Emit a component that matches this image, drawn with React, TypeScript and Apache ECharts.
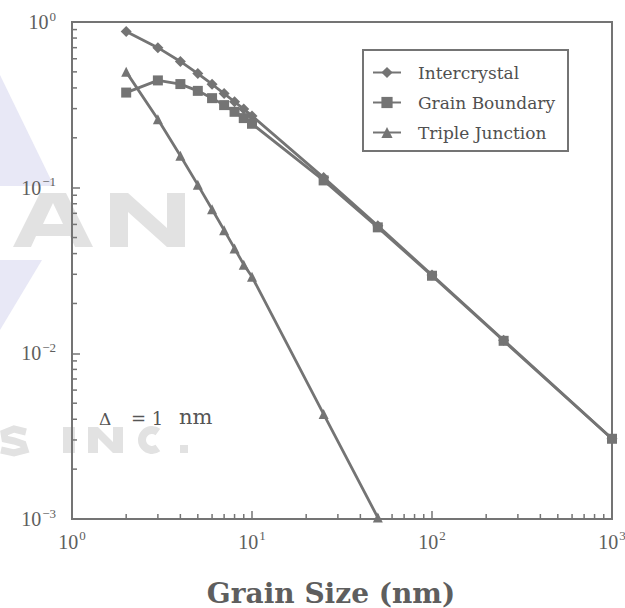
import { useEffect, useRef } from "react";
import * as echarts from "echarts";

// ---- data ----
const GRAIN_SIZE_NM = [2, 3, 4, 5, 6, 7, 8, 9, 10, 25, 50, 100, 250, 1000];
const INTERCRYSTAL = [0.875, 0.70, 0.578, 0.488, 0.421, 0.37, 0.33, 0.298, 0.271, 0.115, 0.0588, 0.0297, 0.012, 0.00305];
const GRAIN_BOUNDARY = [0.375, 0.444, 0.422, 0.384, 0.347, 0.315, 0.287, 0.263, 0.243, 0.1106, 0.0576, 0.0294, 0.0119, 0.00305];
const TRIPLE_SIZE_NM = [2, 3, 4, 5, 6, 7, 8, 9, 10, 25, 50];
const TRIPLE_JUNCTION = [0.5, 0.259, 0.156, 0.104, 0.0741, 0.0554, 0.043, 0.0343, 0.029, 0.0043, 0.00102];

const SERIES_NAMES = ["Intercrystal", "Grain Boundary", "Triple Junction"];
const X_MIN = 1;
const X_MAX = 1000;
const Y_MIN = 0.001;
const Y_MAX = 1;
const MINOR_STEPS = [2, 3, 4, 5, 6, 7, 8, 9];
const X_DECADES = [1, 10, 100];
const Y_DECADES = [0.001, 0.01, 0.1];
const X_TITLE = "Grain Size (nm)";
const ANNOTATION_SYMBOL = "Δ";
const ANNOTATION_EQ = "= 1";
const ANNOTATION_UNIT = "nm";

const INK = "#747474";
const TEXT = "#5e5e5e";
const WM = "#e2e2e2";
const WM_BLUE = "#e8e8f6";

export default function App() {
  const ref = useRef<HTMLDivElement>(null);

  useEffect(() => {
    if (!ref.current) return;
    const chart = echarts.init(ref.current, undefined, { renderer: "svg" });

    const minorTicks: number[][] = [];
    X_DECADES.forEach((d) => MINOR_STEPS.forEach((m) => minorTicks.push([d * m, Y_MIN, 0])));
    Y_DECADES.forEach((d) => MINOR_STEPS.forEach((m) => minorTicks.push([X_MIN, d * m, 1])));

    const expLabel = (v: number) => {
      const e = Math.round(Math.log10(v));
      const s = e < 0 ? "\u2212" + Math.abs(e) : String(e);
      return `{b|10}{e|${s}}`;
    };
    const rich = {
      b: { fontFamily: "Liberation Serif", fontSize: 20, color: TEXT },
      e: { fontFamily: "Liberation Serif", fontSize: 13, color: TEXT, padding: [0, 0, 12, 1] },
    };

    const lineSeries = (name: string, xs: number[], ys: number[], symbol: string, size: number) => ({
      name,
      type: "line",
      data: xs.map((x, i) => [x, ys[i]]),
      symbol,
      symbolSize: size,
      showSymbol: true,
      lineStyle: { color: INK, width: 2.8 },
      itemStyle: { color: INK },
      z: 3,
    });

    const wm = (points: number[][], fill = WM) => ({
      type: "polygon",
      z: -10,
      silent: true,
      shape: { points },
      style: { fill },
    });

    chart.setOption({
      animation: false,
      backgroundColor: "#ffffff",
      grid: {
        left: 72,
        right: 13,
        top: 22,
        bottom: 89,
        outerBoundsMode: "none",
        containLabel: false,
        show: true,
        borderColor: INK,
        borderWidth: 2,
        backgroundColor: "transparent",
      },
      xAxis: {
        type: "log",
        logBase: 10,
        min: X_MIN,
        max: X_MAX,
        name: X_TITLE,
        nameLocation: "middle",
        nameGap: 60,
        nameTextStyle: {
          fontFamily: "DejaVu Serif",
          fontSize: 28,
          fontWeight: "bold",
          color: TEXT,
          padding: [0, 22, 0, 0],
        },
        axisLine: { show: true, lineStyle: { color: INK, width: 2 } },
        axisTick: { show: true, inside: true, length: 8, lineStyle: { color: INK, width: 1.5 } },
        axisLabel: { formatter: expLabel, rich, margin: 10, showMinLabel: true, showMaxLabel: true },
        splitLine: { show: false },
      },
      yAxis: {
        type: "log",
        logBase: 10,
        min: Y_MIN,
        max: Y_MAX,
        axisLine: { show: true, lineStyle: { color: INK, width: 2 } },
        axisTick: { show: true, inside: true, length: 8, lineStyle: { color: INK, width: 1.5 } },
        axisLabel: {
          formatter: expLabel,
          rich,
          margin: 16,
          showMinLabel: true,
          showMaxLabel: true,
        },
        splitLine: { show: false },
      },
      legend: {
        orient: "vertical",
        left: 363,
        top: 50,
        padding: [14, 13, 10, 9],
        itemGap: 13,
        itemWidth: 28,
        itemHeight: 14,
        borderColor: INK,
        borderWidth: 2,
        backgroundColor: "#ffffff",
        textStyle: {
          fontFamily: "DejaVu Serif",
          fontSize: 17,
          lineHeight: 14,
          color: "#505050",
          padding: [0, 0, 0, 12],
        },
        data: SERIES_NAMES,
      },
      graphic: [
        // faint watermark behind the chart
        wm([[0, 75], [54, 186], [0, 186]], WM_BLUE),
        wm([[0, 260], [42, 260], [0, 330]], WM_BLUE),
        wm([[13, 247], [40, 193], [66, 193], [93, 247], [75, 247], [70, 236], [36, 236], [31, 247]]),
        wm([[43, 224], [53, 203], [63, 224]], "#ffffff"),
        wm([[110, 247], [110, 193], [128, 193], [167, 228], [167, 193], [185, 193], [185, 247], [167, 247], [128, 212], [128, 247]]),
        {
          type: "polyline",
          z: -10,
          silent: true,
          shape: { points: [[26, 432], [14, 429], [4, 433], [5, 439], [14, 441], [23, 444], [25, 450], [14, 453], [1, 450]] },
          style: { stroke: WM, lineWidth: 7, fill: "none" },
        },
        wm([[63, 427], [75, 427], [75, 453], [63, 453]]),
        wm([[88, 453], [88, 427], [98, 427], [113, 442], [113, 427], [123, 427], [123, 453], [113, 453], [98, 438], [98, 453]]),
        {
          type: "arc",
          z: -10,
          silent: true,
          shape: { cx: 152, cy: 440, r: 10, startAngle: Math.PI * 0.3, endAngle: Math.PI * 1.7, clockwise: true },
          style: { stroke: WM, lineWidth: 8, fill: "none" },
        },
        wm([[180, 445], [188, 445], [188, 453], [180, 453]]),
        // annotation
        { type: "text", left: 99, top: 410, style: { text: ANNOTATION_SYMBOL, font: "17px DejaVu Serif", fill: "#555" } },
        { type: "text", left: 131, top: 409, style: { text: ANNOTATION_EQ, font: "18px DejaVu Serif", fill: "#555" } },
        { type: "text", left: 179, top: 406, style: { text: ANNOTATION_UNIT, font: "21px DejaVu Serif", fill: "#555" } },
      ],
      series: [
        lineSeries(SERIES_NAMES[0], GRAIN_SIZE_NM, INTERCRYSTAL, "diamond", 11),
        lineSeries(SERIES_NAMES[1], GRAIN_SIZE_NM, GRAIN_BOUNDARY, "rect", 10),
        lineSeries(SERIES_NAMES[2], TRIPLE_SIZE_NM, TRIPLE_JUNCTION, "triangle", 10),
        {
          type: "custom",
          silent: true,
          clip: false,
          data: minorTicks,
          encode: { x: 0, y: 1 },
          z: 4,
          renderItem: (_p: any, api: any) => {
            const pt = api.coord([api.value(0), api.value(1)]);
            const isX = api.value(2) === 0;
            return {
              type: "line",
              shape: isX
                ? { x1: pt[0], y1: pt[1], x2: pt[0], y2: pt[1] - 5 }
                : { x1: pt[0], y1: pt[1], x2: pt[0] + 5, y2: pt[1] },
              style: { stroke: INK, lineWidth: 1.5 },
            };
          },
        },
      ],
    });

    return () => chart.dispose();
  }, []);

  return (
    <div
      ref={ref}
      style={{ position: "fixed", left: 0, top: 0, width: 625, height: 608, background: "#fff" }}
    />
  );
}
